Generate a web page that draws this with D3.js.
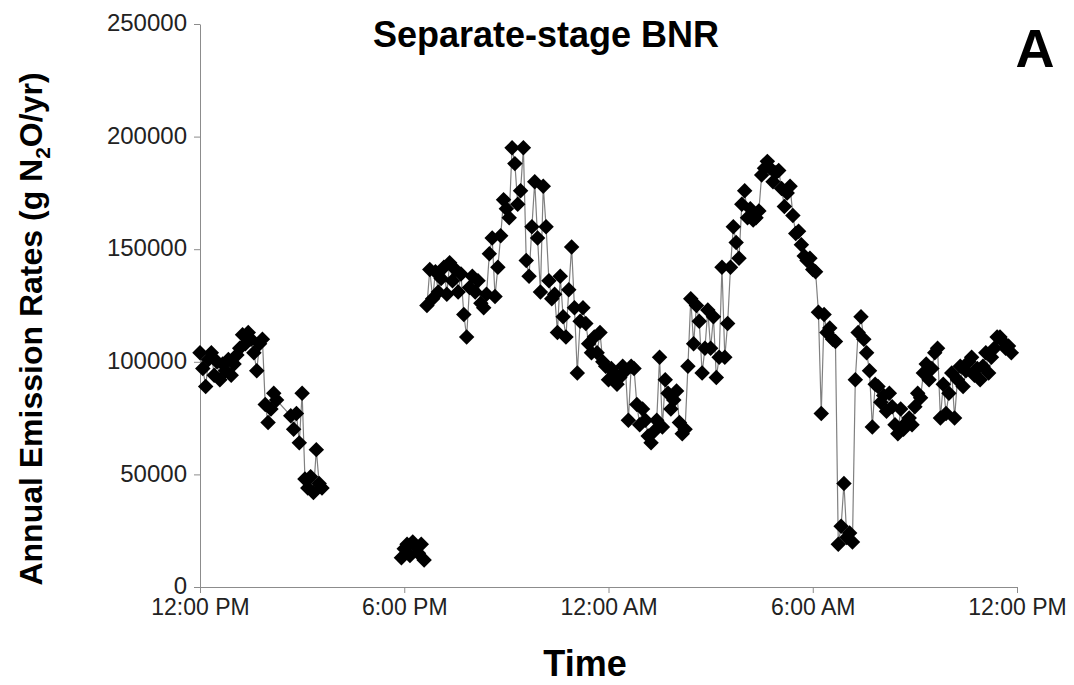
<!DOCTYPE html>
<html>
<head>
<meta charset="utf-8">
<script src="https://cdn.jsdelivr.net/npm/d3@7"></script>
<style>
  body { margin: 0; background: #fff; }
  svg { display: block; font-family: Arial, "Liberation Sans", sans-serif; }
</style>
</head>
<body>
<svg id="chart" width="1074" height="685"></svg>
<script>
// minutes after 12:00 PM, emission rate (g N2O/yr); null = gap in record
const minutes = [
  0, 5, 10, 15, 20, 25, 30, 35, 40, 45, 50, 55, 60, 65, 70, 75, 80, 85, 90, 95,
  100, 105, 110, 115, 120, 125, 130, 135, 160, 165, 170, 175, 180, 185, 190, 195,
  200, 205, 210, 215,
  280,
  355, 360, 365, 370, 375, 380, 385, 390, 395,
  398,
  400, 405, 410, 415, 420, 425, 430, 435, 440, 445,
  450, 455, 460, 465, 470, 475, 480, 485, 490, 495,
  500, 505, 510, 515, 520, 525, 530, 535, 540, 545,
  550, 555, 560, 565, 570, 575, 580, 585, 590, 595,
  600, 605, 610, 615, 620, 625, 630, 635, 640, 645,
  650, 655, 660, 665, 670, 675, 680, 685, 690, 695,
  700, 705, 710, 715, 720, 725, 730, 735, 740, 745,
  750, 755, 760, 765, 770, 775, 780, 785, 790, 795,
  800, 805, 810, 815, 820, 825, 830, 835, 840, 845,
  850, 855, 860, 865, 870, 875, 880, 885, 890, 895,
  900, 905, 910, 915, 920, 925, 930, 935, 940, 945,
  950, 955, 960, 965, 970, 975, 980, 985, 990, 995,
  1000, 1005, 1010, 1015, 1020, 1025, 1030, 1035, 1040, 1045,
  1050, 1055, 1060, 1065, 1070, 1075, 1080, 1085, 1090, 1095,
  1100, 1105, 1110, 1115, 1120, 1125, 1130, 1135, 1140, 1145,
  1150, 1155, 1160, 1165, 1170, 1175, 1180, 1185, 1190, 1195,
  1200, 1205, 1210, 1215, 1220, 1225, 1230, 1235, 1240, 1245,
  1250, 1255, 1260, 1265, 1270, 1275, 1280, 1285, 1290, 1295,
  1300, 1305, 1310, 1315, 1320, 1325, 1330, 1335, 1340, 1345,
  1350, 1355, 1360, 1365, 1370, 1375, 1380, 1385, 1390, 1395,
  1400, 1405, 1410, 1415, 1420, 1425, 1430
]

const rates = [
  104000, 97000, 89000, 101000, 104000, 94000, 100000, 92000, 99000, 96000,
  101000, 94000, 99000, 103000, 106000, 112000, 108000, 113000, 110000, 104000,
  96000, 108000, 110000, 81000, 73000, 79000, 86000, 83000,
  76000, 70000, 77000, 64000, 86000, 48000, 44000, 49000, 42000, 61000, 46000, 44000,
  null,
  13000, 17000, 19000, 14000, 20000, 18000, 15000, 19000, 12000,
  null,
  125000, 141000, 128000, 140000, 131000, 137000, 142000, 130000, 144000, 136000,
  141000, 131000, 139000, 121000, 111000, 133000, 138000, 131000, 136000, 126000,
  124000, 130000, 148000, 155000, 129000, 142000, 156000, 172000, 168000, 164000,
  195000, 188000, 170000, 176000, 195000, 145000, 138000, 160000, 180000, 155000,
  131000, 178000, 160000, 136000, 128000, 130000, 113000, 138000, 120000, 111000,
  132000, 151000, 124000, 95000, 118000, 124000, 117000, 108000, 104000, 111000,
  104000, 113000, 100000, 98000, 92000, 97000, 95000, 90000, 93000, 98000,
  96000, 74000, 98000, 97000, 81000, 72000, 79000, 74000, 67000, 64000,
  69000, 74000, 102000, 71000, 92000, 86000, 79000, 83000, 87000, 73000,
  68000, 70000, 98000, 128000, 108000, 125000, 118000, 95000, 106000, 123000,
  106000, 120000, 93000, 102000, 142000, 102000, 117000, 142000, 160000, 153000,
  146000, 170000, 176000, 164000, 168000, 163000, 164000, 167000, 183000, 186000,
  189000, 186000, 180000, 184000, 185000, 177000, 169000, 175000, 178000, 165000,
  157000, 158000, 152000, 147000, 145000, 146000, 141000, 140000, 122000, 77000,
  121000, 113000, 115000, 110000, 109000, 19000, 27000, 46000, 22000, 24000,
  20000, 92000, 113000, 120000, 110000, 104000, 96000, 71000, 90000, 89000,
  82000, 85000, 78000, 86000, 80000, 72000, 68000, 79000, 70000, 73000,
  75000, 72000, 80000, 86000, 84000, 95000, 99000, 92000, 97000, 104000,
  106000, 75000, 90000, 77000, 86000, 95000, 75000, 92000, 98000, 89000,
  96000, 100000, 102000, 94000, 97000, 92000, 98000, 104000, 95000, 102000,
  106000, 111000, 111000, 109000, 106000, 107000, 104000
]

const yTicks = [0, 50000, 100000, 150000, 200000, 250000]
const xTickHours = [0, 6, 12, 18, 24]
const xTickLabels = ['12:00 PM', '6:00 PM', '12:00 AM', '6:00 AM', '12:00 PM']

const start = new Date(2000, 0, 1, 12, 0)
const points = minutes.map((m, i) => ({ t: d3.timeMinute.offset(start, m), v: rates[i] }))

const svg = d3.select('#chart')
const plot = { left: 200, right: 1017, top: 24, bottom: 587 }

const x = d3.scaleTime()
  .domain([start, d3.timeHour.offset(start, 24)])
  .range([plot.left, plot.right])
const y = d3.scaleLinear()
  .domain([0, 250000])
  .range([plot.bottom, plot.top])

const axisColor = '#8c8c8c'

// y axis
const gy = svg.append('g')
  .attr('transform', `translate(${plot.left},0)`)
  .call(d3.axisLeft(y).tickValues(yTicks).tickFormat(d3.format('d')).tickSize(6).tickSizeOuter(0).tickPadding(7))
gy.select('.domain').attr('stroke', axisColor)
gy.selectAll('.tick line').attr('stroke', axisColor)
gy.selectAll('.tick text').attr('font-size', 24).attr('fill', '#222').attr('dy', '0.28em')

// x axis
const gx = svg.append('g')
  .attr('transform', `translate(0,${plot.bottom})`)
  .call(d3.axisBottom(x)
    .tickValues(xTickHours.map(h => d3.timeHour.offset(start, h)))
    .tickFormat((d, i) => xTickLabels[i])
    .tickSize(6).tickSizeOuter(0).tickPadding(6))
gx.select('.domain').attr('stroke', axisColor)
gx.selectAll('.tick line').attr('stroke', axisColor)
gx.selectAll('.tick text').attr('font-size', 23).attr('fill', '#222')

// connecting line
const line = d3.line()
  .defined(d => d.v !== null)
  .x(d => x(d.t))
  .y(d => y(d.v))

svg.append('path')
  .datum(points)
  .attr('d', line)
  .attr('fill', 'none')
  .attr('stroke', '#808080')
  .attr('stroke-width', 1.2)

// diamond markers
const diamond = d3.symbol(d3.symbolSquare, 120)
svg.append('g')
  .selectAll('path')
  .data(points.filter(d => d.v !== null))
  .join('path')
  .attr('d', diamond)
  .attr('transform', d => `translate(${x(d.t)},${y(d.v)}) rotate(45)`)
  .attr('fill', '#000')

// titles
svg.append('text')
  .attr('x', 546).attr('y', 47)
  .attr('text-anchor', 'middle')
  .attr('font-size', 36).attr('font-weight', 'bold')
  .text('Separate-stage BNR')

svg.append('text')
  .attr('x', 1035).attr('y', 67)
  .attr('text-anchor', 'middle')
  .attr('font-size', 54).attr('font-weight', 'bold')
  .text('A')

svg.append('text')
  .attr('x', 585).attr('y', 676)
  .attr('text-anchor', 'middle')
  .attr('font-size', 36).attr('font-weight', 'bold')
  .text('Time')

const ylab = svg.append('text')
  .attr('transform', 'translate(42,329) rotate(-90)')
  .attr('text-anchor', 'middle')
  .attr('font-size', 32).attr('font-weight', 'bold')
ylab.append('tspan').text('Annual Emission Rates (g N')
ylab.append('tspan').attr('font-size', 21).attr('dy', 8).text('2')
ylab.append('tspan').attr('dy', -8).text('O/yr)')
</script>
</body>
</html>
